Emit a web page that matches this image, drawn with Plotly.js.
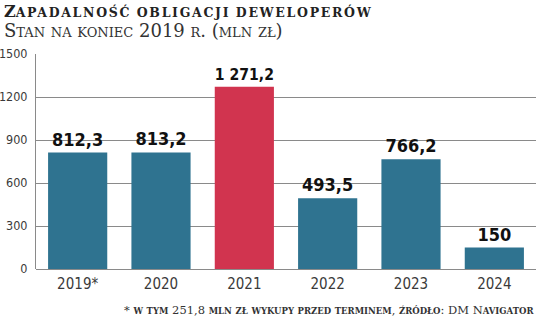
<!DOCTYPE html>
<html><head><meta charset="utf-8">
<script src="https://cdn.plot.ly/plotly-3.0.1.min.js"></script>
<style>html,body{margin:0;padding:0;background:#fff}</style>
</head><body>
<div id="chart" style="width:536px;height:323px"></div>
<script>
const categories = ["2019*", "2020", "2021", "2022", "2023", "2024"];
const values = [812.3, 813.2, 1271.2, 493.5, 766.2, 150];
const valueLabels = ["812,3", "813,2", "1 271,2", "493,5", "766,2", "150"];
const yTicks = [0, 300, 600, 900, 1200, 1500];
const highlightCategory = "2021";

const BLUE = "#2f7390", RED = "#d1344f";
const colors = categories.map(c => c === highlightCategory ? RED : BLUE);

// small-caps helper: uppercase letters/digits stay big, lowercase become smaller capitals
function smallCaps(str, big, small, opts) {
  opts = opts || {};
  let out = "", buf = "", mode = null;
  const flush = () => {
    if (!buf) return;
    const isS = mode === "s";
    const sz = isS ? small : big;
    const bold = isS ? opts.boldSmall : opts.boldBig;
    const ls = isS && opts.spacing ? `;letter-spacing:${opts.spacing}px` : "";
    let t = `<span style="font-size:${sz}px${ls}">${buf}</span>`;
    if (bold) t = "<b>" + t + "</b>";
    out += t;
    buf = "";
  };
  for (const ch of str) {
    const isLower = ch !== ch.toUpperCase();
    const m = isLower ? "s" : "b";
    if (mode !== m) { flush(); mode = m; }
    buf += isLower ? ch.toUpperCase() : ch;
  }
  flush();
  return out;
}

const titleText = "Zapadalność obligacji deweloperów";
const subtitleText = "Stan na koniec 2019 r. (mln zł)";
const noteText = "* w tym 251,8 mln zł wykupy przed terminem, źródło: DM Navigator";

const plotTop = 54, plotH = 215, plotL = 36, plotW = 500;
const py = p => 1 + (plotTop - p) / plotH;
const px = p => (p - plotL) / plotW;

const trace = {
  type: "bar",
  x: categories,
  y: values,
  text: valueLabels,
  textposition: "outside",
  cliponaxis: false,
  textfont: {family: "DejaVu Sans Condensed, DejaVu Sans", size: 18, color: "#111", weight: "bold"},
  marker: {color: colors},
  hoverinfo: "none"
};

const layout = {
  width: 536, height: 323,
  margin: {l: plotL, r: 0, t: plotTop, b: 323 - plotTop - plotH, pad: 0},
  paper_bgcolor: "#fff", plot_bgcolor: "#fff",
  bargap: 0.29,
  showlegend: false,
  font: {family: "DejaVu Sans Condensed, DejaVu Sans", color: "#333"},
  xaxis: {
    type: "category",
    showgrid: false, showline: false, zeroline: false,
    ticks: "", tickfont: {size: 15, color: "#3a3a3a", family: "DejaVu Sans Condensed, DejaVu Sans"},
    ticklabelstandoff: 4
  },
  yaxis: {
    range: [0, 1500],
    tickvals: yTicks,
    ticktext: yTicks.map(String),
    showgrid: true, gridcolor: "#8a8a8a", gridwidth: 1,
    showline: true, linecolor: "#8a8a8a", linewidth: 1,
    zeroline: true, zerolinecolor: "#8a8a8a", zerolinewidth: 1,
    ticks: "", tickfont: {size: 12.5, color: "#3a3a3a", family: "DejaVu Sans Condensed, DejaVu Sans"},
    ticklabelstandoff: 5
  },
  annotations: [
    {xref: "paper", yref: "paper", x: px(2), y: py(12), xanchor: "left", yanchor: "middle",
     showarrow: false, text: smallCaps(titleText, 16, 12.5, {boldBig: true, boldSmall: true, spacing: 1.7}),
     font: {family: "DejaVu Serif", color: "#222", size: 16}},
    {xref: "paper", yref: "paper", x: px(2), y: py(31), xanchor: "left", yanchor: "middle",
     showarrow: false, text: smallCaps(subtitleText, 18, 13),
     font: {family: "DejaVu Serif", color: "#333", size: 18}},
    {xref: "paper", yref: "paper", x: 1, y: py(310), xanchor: "right", yanchor: "middle",
     showarrow: false, text: smallCaps(noteText, 11.5, 8.5, {boldSmall: true}),
     font: {family: "DejaVu Serif", color: "#333", size: 11.5}}
  ]
};

Plotly.newPlot("chart", [trace], layout, {displayModeBar: false, staticPlot: true});
</script>
</body></html>
